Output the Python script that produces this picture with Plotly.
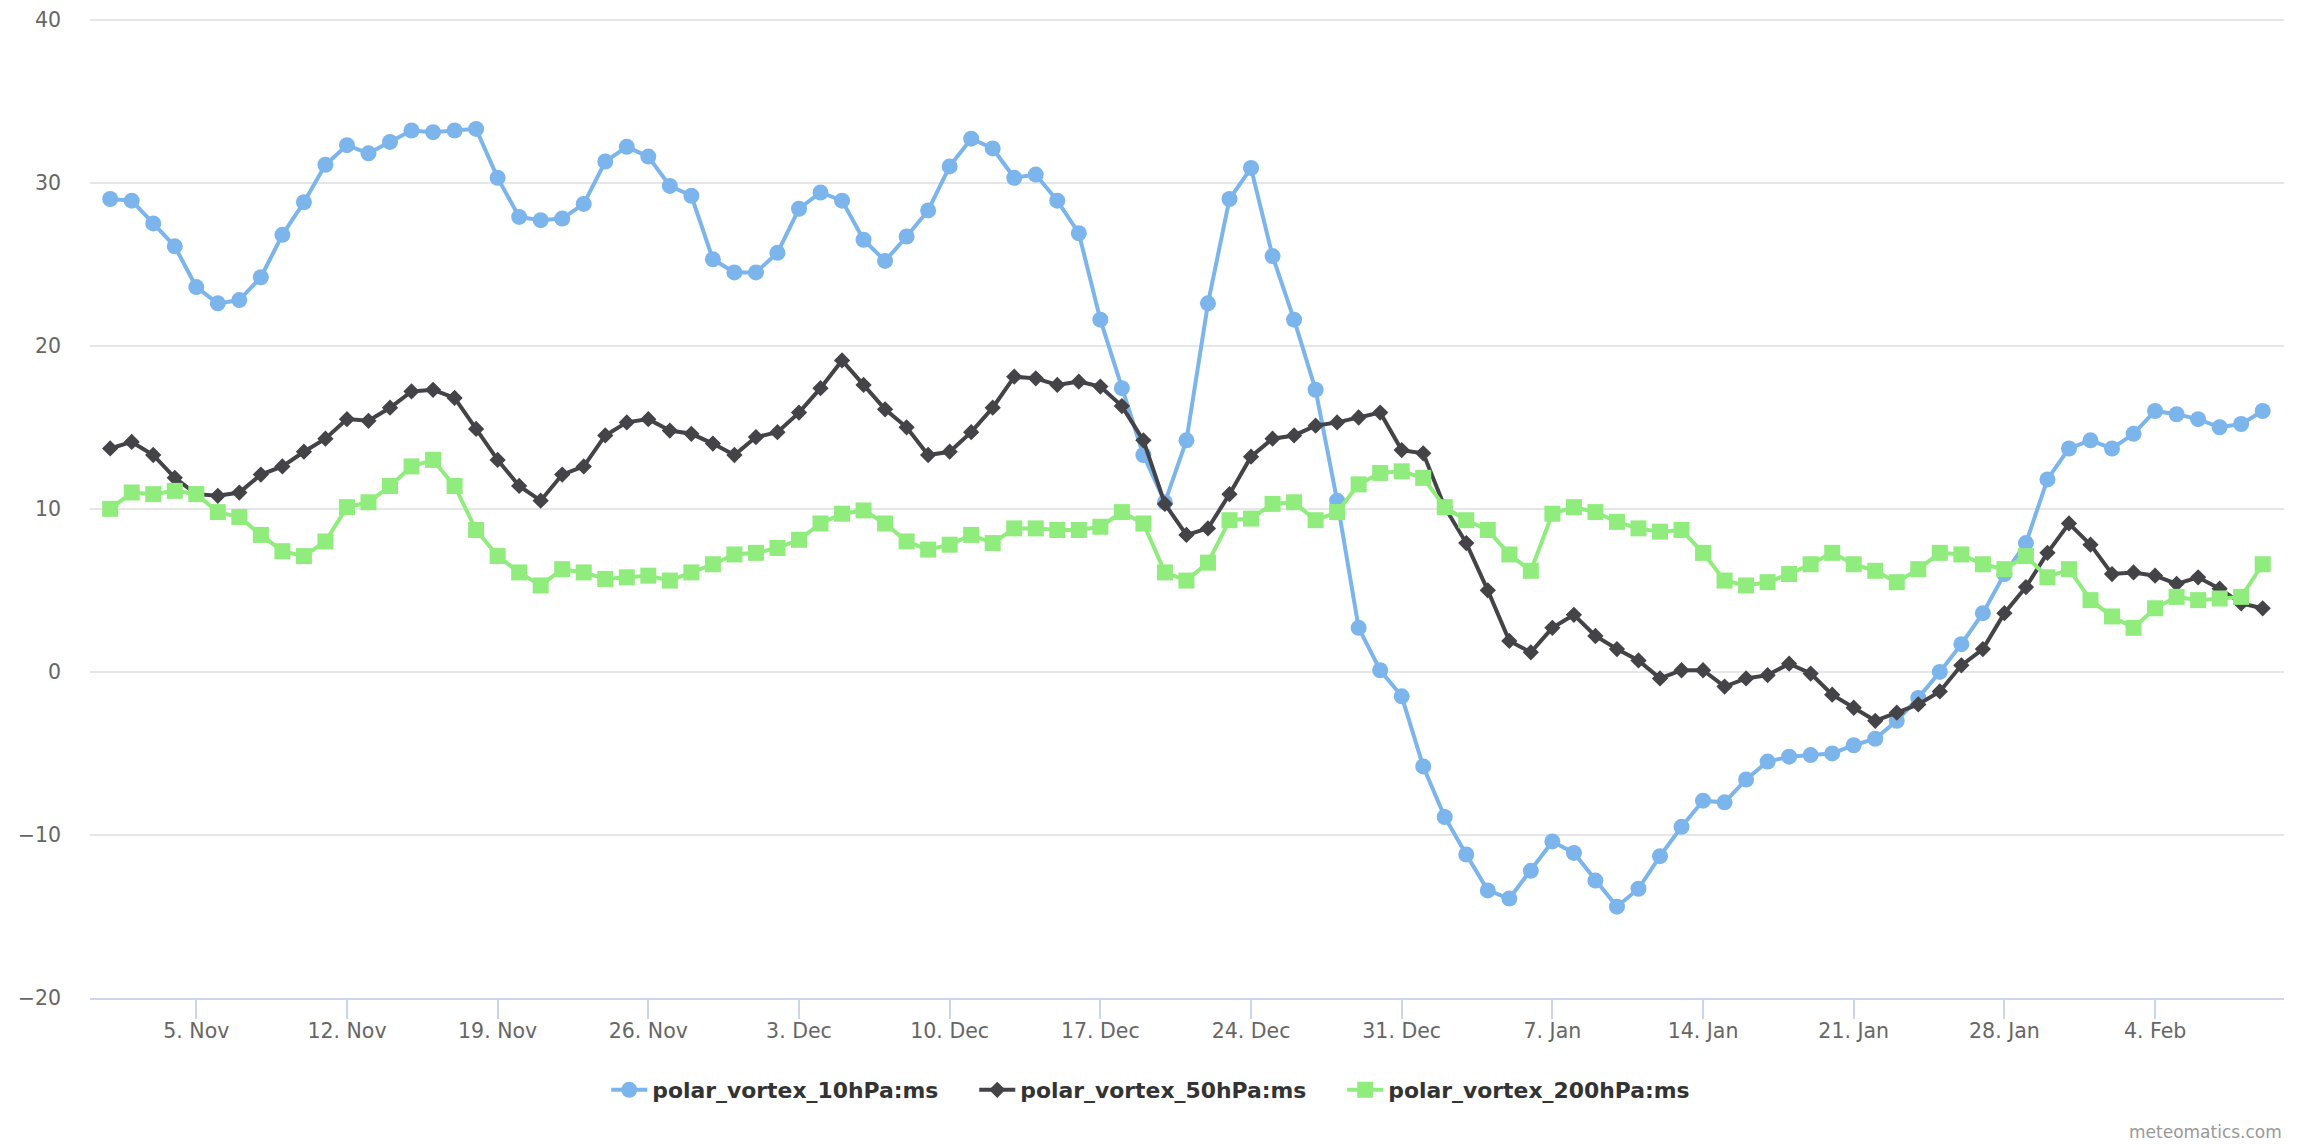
import pandas as pd
from plotly import graph_objects as go

# daily values, 1 Nov to 9 Feb
dates = pd.date_range("2023-11-01", "2024-02-09", freq="D")

vortex_10 = [
    29.0, 28.9, 27.5, 26.1, 23.6, 22.6, 22.8, 24.2, 26.8, 28.8,
    31.1, 32.3, 31.8, 32.5, 33.2, 33.1, 33.2, 33.3, 30.3, 27.9,
    27.7, 27.8, 28.7, 31.3, 32.2, 31.6, 29.8, 29.2, 25.3, 24.5,
    24.5, 25.7, 28.4, 29.4, 28.9, 26.5, 25.2, 26.7, 28.3, 31.0,
    32.7, 32.1, 30.3, 30.5, 28.9, 26.9, 21.6, 17.4, 13.3, 10.4,
    14.2, 22.6, 29.0, 30.9, 25.5, 21.6, 17.3, 10.5, 2.7, 0.1,
    -1.5, -5.8, -8.9, -11.2, -13.4, -13.9, -12.2, -10.4, -11.1, -12.8,
    -14.4, -13.3, -11.3, -9.5, -7.9, -8.0, -6.6, -5.5, -5.2, -5.1,
    -5.0, -4.5, -4.1, -3.0, -1.6, 0.0, 1.7, 3.6, 6.0, 7.9,
    11.8, 13.7, 14.2, 13.7, 14.6, 16.0, 15.8, 15.5, 15.0, 15.2,
    16.0,
]
vortex_50 = [
    13.7, 14.1, 13.3, 11.9, 10.9, 10.8, 11.0, 12.1, 12.6, 13.5,
    14.3, 15.5, 15.4, 16.2, 17.2, 17.3, 16.8, 14.9, 13.0, 11.4,
    10.5, 12.1, 12.6, 14.5, 15.3, 15.5, 14.8, 14.6, 14.0, 13.3,
    14.4, 14.7, 15.9, 17.4, 19.1, 17.6, 16.1, 15.0, 13.3, 13.5,
    14.7, 16.2, 18.1, 18.0, 17.6, 17.8, 17.5, 16.3, 14.2, 10.3,
    8.4, 8.8, 10.9, 13.2, 14.3, 14.5, 15.1, 15.3, 15.6, 15.9,
    13.6, 13.4, 10.1, 7.9, 5.0, 1.9, 1.2, 2.7, 3.5, 2.2,
    1.4, 0.7, -0.4, 0.1, 0.1, -0.9, -0.4, -0.2, 0.5, -0.1,
    -1.4, -2.2, -3.0, -2.5, -2.0, -1.2, 0.4, 1.4, 3.6, 5.2,
    7.3, 9.1, 7.8, 6.0, 6.1, 5.9, 5.4, 5.8, 5.1, 4.2,
    3.9,
]
vortex_200 = [
    10.0, 11.0, 10.9, 11.1, 10.9, 9.8, 9.5, 8.4, 7.4, 7.1,
    8.0, 10.1, 10.4, 11.4, 12.6, 13.0, 11.4, 8.7, 7.1, 6.1,
    5.3, 6.3, 6.1, 5.7, 5.8, 5.9, 5.6, 6.1, 6.6, 7.2,
    7.3, 7.6, 8.1, 9.1, 9.7, 9.9, 9.1, 8.0, 7.5, 7.8,
    8.4, 7.9, 8.8, 8.8, 8.7, 8.7, 8.9, 9.8, 9.1, 6.1,
    5.6, 6.7, 9.3, 9.4, 10.3, 10.4, 9.3, 9.8, 11.5, 12.2,
    12.3, 11.9, 10.1, 9.3, 8.7, 7.2, 6.2, 9.7, 10.1, 9.8,
    9.2, 8.8, 8.6, 8.7, 7.3, 5.6, 5.3, 5.5, 6.0, 6.6,
    7.3, 6.6, 6.2, 5.5, 6.3, 7.3, 7.2, 6.6, 6.3, 7.1,
    5.8, 6.3, 4.4, 3.4, 2.7, 3.9, 4.6, 4.4, 4.5, 4.6,
    6.6,
]

tick_dates = ["2023-11-05", "2023-11-12", "2023-11-19", "2023-11-26", "2023-12-03",
              "2023-12-10", "2023-12-17", "2023-12-24", "2023-12-31", "2024-01-07",
              "2024-01-14", "2024-01-21", "2024-01-28", "2024-02-04"]
tick_labels = ["5. Nov", "12. Nov", "19. Nov", "26. Nov", "3. Dec", "10. Dec", "17. Dec",
               "24. Dec", "31. Dec", "7. Jan", "14. Jan", "21. Jan", "28. Jan", "4. Feb"]
y_ticks = [-20, -10, 0, 10, 20, 30, 40]
y_labels = ["\u221220", "\u221210", "0", "10", "20", "30", "40"]

FONT = "DejaVu Sans"

fig = go.Figure()
for name, values, color, symbol, size in [
    ("polar_vortex_10hPa:ms", vortex_10, "#7cb5ec", "circle", 16),
    ("polar_vortex_50hPa:ms", vortex_50, "#434348", "diamond", 12.5),
    ("polar_vortex_200hPa:ms", vortex_200, "#90ed7d", "square", 16),
]:
    fig.add_trace(go.Scatter(
        x=dates, y=values, mode="lines+markers", name=name,
        line=dict(color=color, width=4),
        marker=dict(color=color, symbol=symbol, size=size),
    ))

fig.update_layout(
    width=2304, height=1144,
    margin=dict(l=82, r=28, t=9.5, b=154),
    paper_bgcolor="white", plot_bgcolor="white",
    font=dict(family=FONT, color="#666666", size=20),
    legend=dict(
        orientation="h", x=0.2353, xanchor="left", y=-0.094, yanchor="middle",
        itemwidth=36, entrywidth=317, entrywidthmode="pixels",
        font=dict(family=FONT, size=21.9, color="#333333", weight="bold"),
    ),
)
fig.update_xaxes(
    range=["2023-10-31 01:30", "2024-02-09 23:45"],
    tickmode="array", tickvals=tick_dates, ticktext=tick_labels,
    ticks="outside", ticklen=19, tickwidth=1.5, tickcolor="#ccd6eb",
    ticklabelstandoff=-6, automargin=False,
    showline=True, linecolor="#ccd6eb", linewidth=2, showgrid=False,
    tickfont=dict(family=FONT, size=20.5, color="#666666"),
)
# top of the range a touch over 40, plotly drops a gridline sitting on the edge
fig.update_yaxes(
    range=[-20, 40.1], tickvals=y_ticks, ticktext=y_labels,
    showgrid=True, gridcolor="#e6e6e6", gridwidth=1.5, zeroline=False,
    ticks="", ticklabelstandoff=28, automargin=False, ticklabeloverflow="allow",
    tickfont=dict(family=FONT, size=20.5, color="#666666"),
)
fig.add_annotation(
    text="meteomatics.com", xref="paper", yref="paper", x=1, y=-0.137,
    xanchor="right", yanchor="middle", showarrow=False,
    font=dict(family=FONT, size=17, color="#999999"),
)

fig.write_html("out.html")
